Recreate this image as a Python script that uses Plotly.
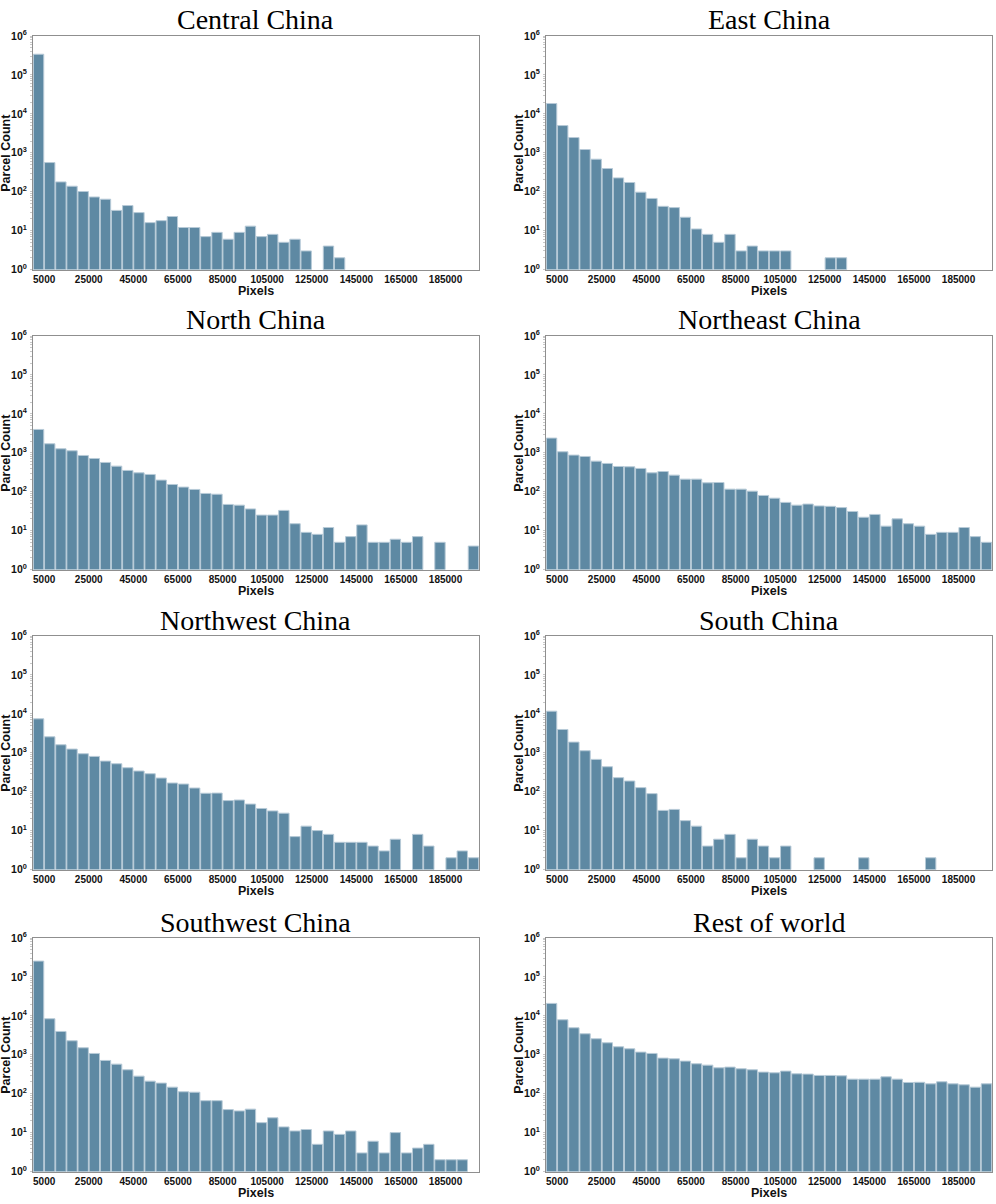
import plotly.graph_objects as go

# ---------------- data ----------------
bin_width = 5000
n_bins = 40
bin_centers = [bin_width * i + bin_width / 2 for i in range(n_bins)]

regions = ["Central China", "East China", "North China", "Northeast China",
           "Northwest China", "South China", "Southwest China", "Rest of world"]

central_china = [340000, 560, 178, 138, 101, 73, 64, 33, 44, 29,
                 16, 18, 23, 12, 12, 7, 9, 6, 9, 13,
                 7, 8, 5, 6, 3, 0, 4, 2, 0, 0,
                 0, 0, 0, 0, 0, 0, 0, 0, 0, 0]
east_china = [18400, 5000, 2460, 1210, 683, 393, 226, 172, 97, 67,
              42, 39, 22, 11, 8, 5, 8, 3, 4, 3,
              3, 3, 0, 0, 0, 2, 2, 0, 0, 0,
              0, 0, 0, 0, 0, 0, 0, 0, 0, 0]
north_china = [3970, 1700, 1265, 1124, 852, 713, 563, 453, 351, 305,
               277, 198, 153, 131, 114, 90, 86, 47, 45, 36,
               25, 25, 33, 15, 9, 8, 12, 5, 7, 14,
               5, 5, 6, 5, 7, 0, 5, 0, 0, 4]
northeast_china = [2380, 1059, 869, 803, 609, 531, 444, 436, 395, 305,
                   330, 266, 210, 210, 169, 172, 116, 116, 103, 80,
                   68, 53, 45, 48, 43, 42, 39, 31, 22, 26,
                   13, 20, 15, 13, 8, 9, 9, 12, 7, 5]
northwest_china = [7450, 2570, 1603, 1242, 943, 805, 611, 522, 412, 339,
                   289, 224, 167, 157, 124, 91, 92, 59, 61, 48,
                   37, 32, 28, 7, 13, 10, 8, 5, 5, 5,
                   4, 3, 6, 0, 8, 4, 0, 2, 3, 2]
south_china = [11700, 3965, 1878, 1126, 675, 437, 229, 188, 127, 89,
               33, 35, 18, 13, 4, 6, 8, 2, 6, 4,
               2, 4, 0, 0, 2, 0, 0, 0, 2, 0,
               0, 0, 0, 0, 2, 0, 0, 0, 0, 0]
southwest_china = [255000, 8410, 3970, 2286, 1511, 1080, 714, 574, 411, 282,
                   210, 187, 147, 112, 109, 66, 66, 39, 36, 40,
                   18, 24, 14, 11, 12, 5, 11, 9, 11, 3,
                   6, 3, 10, 3, 4, 5, 2, 2, 2, 0]
rest_of_world = [20840, 7920, 4935, 3460, 2572, 2030, 1603, 1423, 1169, 1080,
                 819, 787, 686, 586, 541, 462, 481, 436, 411, 358,
                 344, 380, 324, 318, 294, 294, 288, 236, 236, 236,
                 271, 236, 194, 196, 179, 202, 179, 169, 147, 179]

series = [central_china, east_china, north_china, northeast_china,
          northwest_china, south_china, southwest_china, rest_of_world]

x_tick_vals = [5000, 25000, 45000, 65000, 85000, 105000, 125000, 145000, 165000, 185000]
x_tick_text = ["5000", "25000", "45000", "65000", "85000", "105000", "125000",
               "145000", "165000", "185000"]
y_tick_vals = [1, 10, 100, 1000, 10000, 100000, 1000000]
y_tick_text = ["10<sup>0</sup>", "10<sup>1</sup>", "10<sup>2</sup>", "10<sup>3</sup>",
               "10<sup>4</sup>", "10<sup>5</sup>", "10<sup>6</sup>"]

# ---------------- layout geometry ----------------
W, H = 996, 1204
col_px = [(33, 479), (546, 992)]
row_top_px = [36, 336, 636, 938]
plot_h = 233.5

BAR_COLOR = "#5e89a3"
BAR_EDGE = "#b7cad7"
AXIS_COLOR = "#8f8f8f"
x_tick_font = dict(family="Liberation Sans, Arial", size=10, color="#111111", weight="bold")
y_tick_font = dict(family="Liberation Sans, Arial", size=10.5, color="#111111", weight="bold")
label_font = dict(family="Liberation Sans, Arial", size=12.5, color="#111111", weight="bold")
title_font = dict(family="Liberation Serif, Times New Roman, serif", size=28, color="#000000")

fig = go.Figure()
annotations = []
layout_axes = {}

for k, (name, vals) in enumerate(zip(regions, series)):
    r, c = divmod(k, 2)
    x0, x1 = col_px[c]
    top = row_top_px[r]
    bot = top + plot_h
    xd = [x0 / W, x1 / W]
    yd = [1 - bot / H, 1 - top / H]
    idx = "" if k == 0 else str(k + 1)
    xa, ya = "x" + idx, "y" + idx

    yv = [v if v > 0 else None for v in vals]
    fig.add_trace(go.Bar(
        x=bin_centers, y=yv, width=bin_width * 0.93,
        marker=dict(color=BAR_COLOR, line=dict(color=BAR_EDGE, width=1)),
        xaxis=xa, yaxis=ya, showlegend=False,
    ))

    layout_axes["xaxis" + idx] = dict(
        domain=xd, anchor=ya, range=[0, 200000],
        tickmode="array", tickvals=x_tick_vals, ticktext=x_tick_text,
        tickfont=x_tick_font, ticks="", showgrid=False, zeroline=False,
        showline=True, linecolor=AXIS_COLOR, linewidth=1, mirror=True,
        ticklabelstandoff=0, automargin=False,
    )
    layout_axes["yaxis" + idx] = dict(
        domain=yd, anchor=xa, type="log", range=[0, 6],
        tickmode="array", tickvals=y_tick_vals, ticktext=y_tick_text,
        tickfont=y_tick_font, ticks="", showgrid=False, zeroline=False,
        showline=True, linecolor=AXIS_COLOR, linewidth=1, mirror=True,
        ticklabelstandoff=3, automargin=False,
        minor=dict(ticks="outside", ticklen=2, tickcolor="#c8c8c8", tickmode="linear", dtick="D1"),
    )

    cx = (x0 + x1) / 2
    annotations.append(dict(
        text=name, x=cx / W, y=1 - (top - 16) / H, xref="paper", yref="paper",
        xanchor="center", yanchor="middle", showarrow=False, font=title_font,
    ))
    annotations.append(dict(
        text="Parcel Count", x=(x0 - 27) / W, y=1 - (top + plot_h / 2) / H,
        xref="paper", yref="paper", xanchor="center", yanchor="middle",
        textangle=-90, showarrow=False, font=label_font,
    ))
    annotations.append(dict(
        text="Pixels", x=cx / W, y=1 - (bot + 21.5) / H,
        xref="paper", yref="paper", xanchor="center", yanchor="middle",
        showarrow=False, font=label_font,
    ))

fig.update_layout(
    width=W, height=H,
    margin=dict(l=0, r=0, t=0, b=0, autoexpand=False),
    paper_bgcolor="white", plot_bgcolor="white",
    bargap=0.05,
    annotations=annotations,
    **layout_axes,
)

fig.write_html(
    "out.html",
    config={"displayModeBar": False},
    post_script="document.body.style.margin='0';document.body.style.padding='0';"
                "document.documentElement.style.overflow='hidden';",
)
